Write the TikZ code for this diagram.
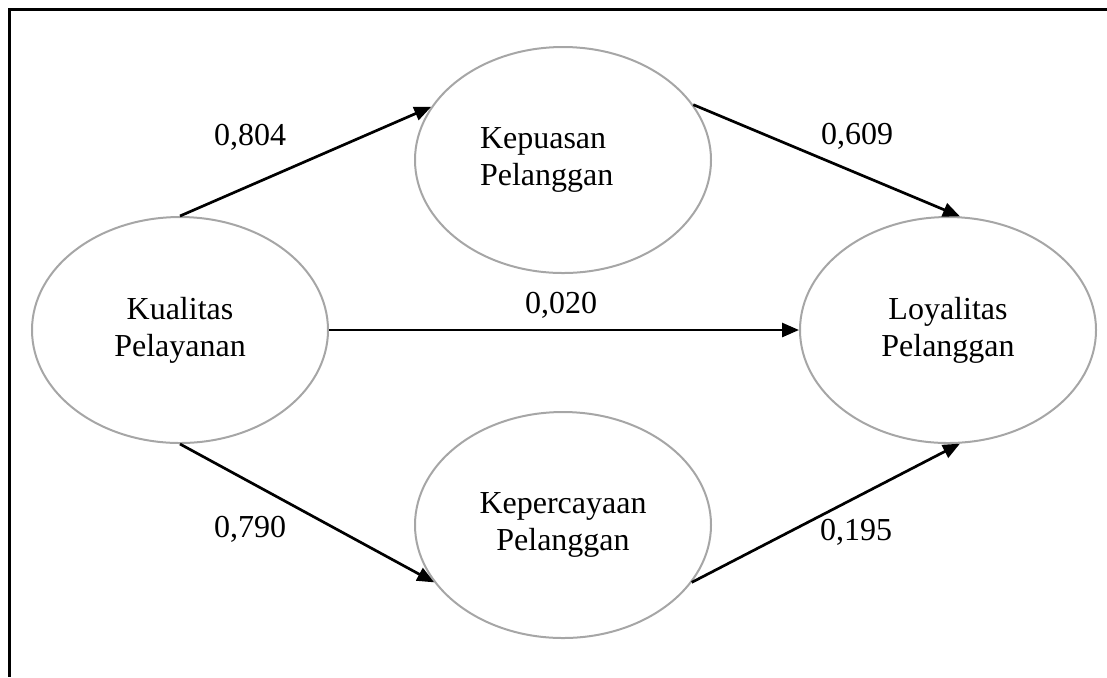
\documentclass[tikz,border=0pt]{standalone}
\usepackage{fontspec}
\setmainfont{Liberation Serif}
\usepackage{tikz}
\usetikzlibrary{shapes.geometric,arrows.meta,positioning}

\begin{document}
\begin{tikzpicture}[x=0.5pt, y=-0.5pt, font=\fontsize{16}{18.5}\selectfont, >={Triangle[length=8.5pt,width=7pt]}]

\tikzstyle{varbox} = [ellipse, draw=black!35, line width=1pt, minimum width=148pt, minimum height=113pt, inner sep=0pt, align=center]
\tikzstyle{pathline} = [->, black, line width=1.35pt]
\tikzstyle{koef} = [inner sep=0pt, anchor=base]

\useasboundingbox (0,0) rectangle (1107,677);
\draw[line width=1.5pt] (1107,9) -- (9,9) -- (9,677);

\node[varbox] (kualitas) at (180,330) {Kualitas\\Pelayanan};
\node[varbox, text width=83pt, align=left] (kepuasan) at (563,160) {Kepuasan\\Pelanggan};
\node[varbox] (kepercayaan) at (563,525) {Kepercayaan\\Pelanggan};
\node[varbox] (loyalitas) at (948,330) {Loyalitas\\Pelanggan};

\draw[pathline] (kualitas.north) -- (kepuasan.158);
\draw[pathline] (kepuasan.23) -- (loyalitas.84);
\draw[pathline] (kualitas.east) -- (loyalitas.west);
\draw[pathline] (kualitas.south) -- (kepercayaan.204);
\draw[pathline] (kepercayaan.336) -- (loyalitas.276);

\node[koef] (k1) at (250,145) {0,804};
\node[koef] (k2) at (857,144) {0,609};
\node[koef] (k3) at (561,313) {0,020};
\node[koef] (k4) at (250,537) {0,790};
\node[koef] (k5) at (856,540) {0,195};

\end{tikzpicture}
\end{document}
